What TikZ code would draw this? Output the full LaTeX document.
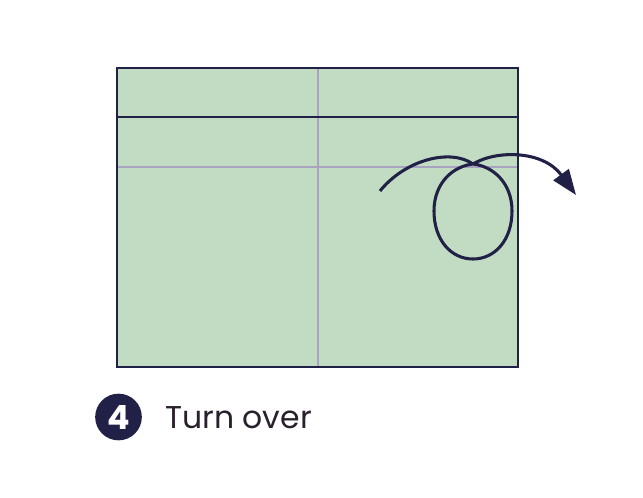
\documentclass[tikz,border=0pt]{standalone}
\usepackage{fontspec}
\setmainfont{Poppins}
\usetikzlibrary{arrows.meta}
\definecolor{paper}{HTML}{C1DCC3}
\definecolor{navy}{HTML}{212046}
\definecolor{fold}{HTML}{A8A3BE}
\definecolor{txt}{HTML}{2A1F2C}
\tikzset{
  crease/.style={draw=fold, line width=1.5pt},
  edge/.style={draw=navy, line width=1.5pt},
  turnarrow/.style={draw=navy, line width=2.3pt, -{Triangle[length=19pt,width=14pt]}},
}
\begin{document}
\begin{tikzpicture}[x=0.75pt,y=-0.75pt]
\useasboundingbox (0,0) rectangle (643,497);
% paper
\fill[paper] (117,68) rectangle (518,367);
\draw[crease] (318,68) -- (318,367);
\draw[crease] (117,167) -- (518,167);
\draw[edge] (117,117) -- (518,117);
\draw[edge] (117,68) rectangle (518,367);
% turn-over loop
\coordinate (s) at (380,191);
\coordinate (c) at (473,164);
\coordinate (e) at (576,195);
\draw[turnarrow] (s) .. controls (405,160) and (450,148) .. (c)
  .. controls (492,166) and (512,182) .. (512,211)
  .. controls (512,240) and (495,259) .. (473,259)
  .. controls (451,259) and (434,240) .. (434,211)
  .. controls (434,182) and (454,166) .. (c)
  .. controls (496,150) and (543,150) .. (e);
% step label
\node[circle, fill=navy, minimum size=35pt, inner sep=0pt, text=white,
  font=\fontsize{25}{25}\selectfont\bfseries] (num) at (118.5,417) {4};
\node[anchor=base west, text=txt, inner sep=0pt,
  font=\fontsize{23.6}{24}\selectfont] (lbl) at (165,428) {Turn over};
\end{tikzpicture}
\end{document}
